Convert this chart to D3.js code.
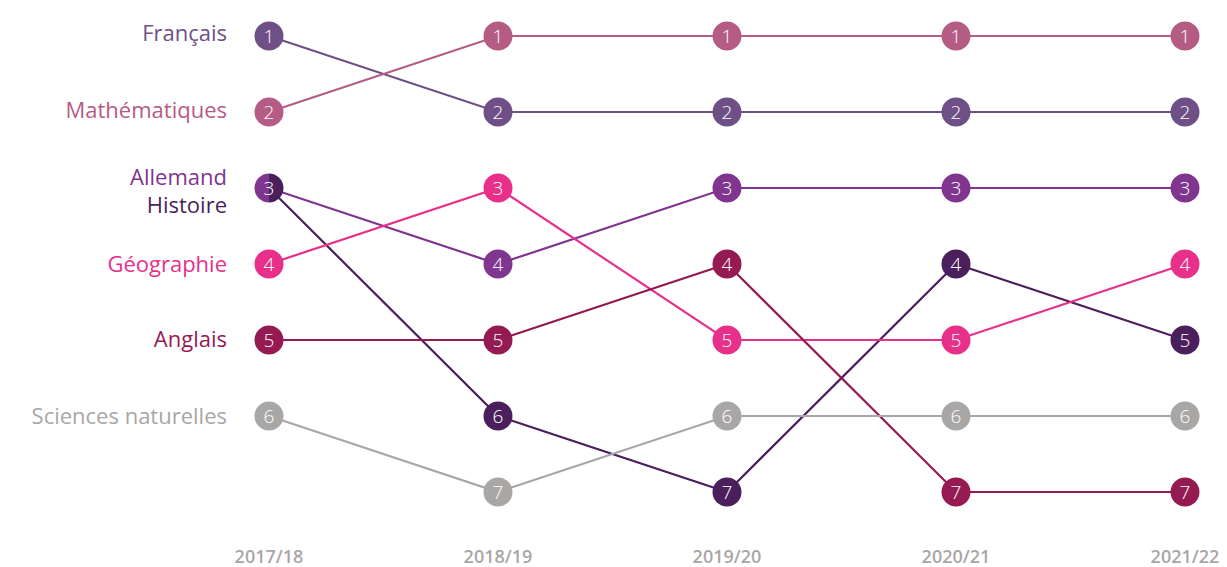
<!DOCTYPE html>
<html>
<head>
<meta charset="utf-8">
<script src="https://cdn.jsdelivr.net/npm/d3@7"></script>
<style>
  body { margin: 0; background: #fff; }
  svg text { font-family: "Open Sans", Lato, sans-serif; }
</style>
</head>
<body>
<svg id="chart" width="1227" height="567"></svg>
<script>
const years = ["2017/18", "2018/19", "2019/20", "2020/21", "2021/22"];
const subjects = ["Français", "Mathématiques", "Allemand", "Histoire", "Géographie", "Anglais", "Sciences naturelles"];
const colors = ["#6e5086", "#b55c85", "#80358f", "#4a1f5c", "#e8308a", "#951a52", "#a9a6a6"];
const ranks = [
    [1, 2, 2, 2, 2],
    [2, 1, 1, 1, 1],
    [3, 4, 3, 3, 3],
    [3, 6, 7, 4, 5],
    [4, 3, 5, 5, 4],
    [5, 5, 4, 7, 7],
    [6, 7, 6, 6, 6]
];

const svg = d3.select("#chart");

const x = d3.scalePoint().domain(years).range([269, 1185]);
const y = d3.scaleLinear().domain([1, 7]).range([36, 492]);
const r = 14.5;

const series = subjects.map((name, i) => ({
    name: name,
    color: colors[i],
    values: ranks[i].map((v, j) => ({ year: years[j], rank: v }))
}));

const line = d3.line().x(d => x(d.year)).y(d => y(d.rank));

// lines
svg.append("g").selectAll("path")
    .data(series)
    .join("path")
    .attr("d", d => line(d.values))
    .attr("fill", "none")
    .attr("stroke", d => d.color)
    .attr("stroke-width", 2.2);

// dots (shared ranks get split circles)
const dots = [];
years.forEach((yr, j) => {
    const groups = d3.group(series, s => s.values[j].rank);
    groups.forEach((list, rank) => {
        dots.push({ year: yr, rank: rank, colors: list.map(s => s.color) });
    });
});

const dot = svg.append("g").selectAll("g")
    .data(dots)
    .join("g")
    .attr("transform", d => `translate(${x(d.year)},${y(d.rank)})`);

dot.each(function(d) {
    const g = d3.select(this);
    if (d.colors.length === 1) {
        g.append("circle").attr("r", r).attr("fill", d.colors[0]);
    } else {
        const n = d.colors.length;
        d.colors.forEach((c, k) => {
            // left half first, then right half
            const arc = d3.arc().innerRadius(0).outerRadius(r)
                .startAngle(Math.PI + k * 2 * Math.PI / n)
                .endAngle(Math.PI + (k + 1) * 2 * Math.PI / n);
            g.append("path").attr("d", arc()).attr("fill", c);
        });
    }
    g.append("text")
        .attr("text-anchor", "middle")
        .attr("dy", "0.36em")
        .attr("fill", "#fff")
        .style("font-size", "19px")
        .style("font-weight", 300)
        .text(d.rank);
});

// left labels
const labelPos = [
    { name: "Français", y: 33 },
    { name: "Mathématiques", y: 110 },
    { name: "Allemand", y: 177 },
    { name: "Histoire", y: 205 },
    { name: "Géographie", y: 264 },
    { name: "Anglais", y: 339 },
    { name: "Sciences naturelles", y: 416 }
];
svg.append("g").selectAll("text")
    .data(labelPos)
    .join("text")
    .attr("x", 227)
    .attr("y", d => d.y)
    .attr("dy", "0.35em")
    .attr("text-anchor", "end")
    .attr("fill", d => colors[subjects.indexOf(d.name)])
    .style("font-size", "22px")
    .text(d => d.name);

// x axis labels
svg.append("g").selectAll("text")
    .data(years)
    .join("text")
    .attr("x", d => x(d))
    .attr("y", 557)
    .attr("dy", "0.35em")
    .attr("text-anchor", "middle")
    .attr("fill", "#aaa6a6")
    .style("font-size", "18px")
    .style("font-weight", 600)
    .text(d => d);
</script>
</body>
</html>
